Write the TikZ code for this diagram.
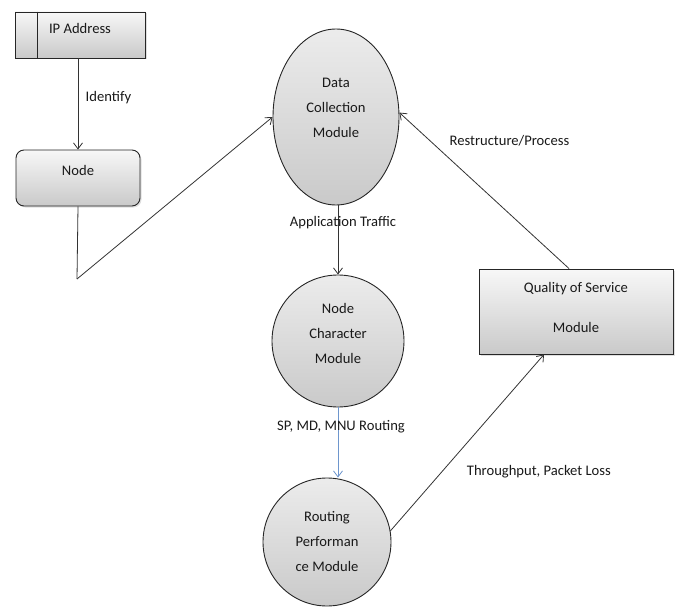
\documentclass[tikz,border=0pt]{standalone}
\usepackage{fontspec}
\setmainfont{Carlito}
\usetikzlibrary{arrows.meta,shapes.geometric,shadows}
\definecolor{arrowblue}{RGB}{110,150,205}
\definecolor{txt}{RGB}{25,25,25}
\begin{document}
\begin{tikzpicture}[x=1pt,y=-1pt,
  every node/.style={font=\fontsize{14.6}{25}\selectfont, text=txt},
  shade/.style={draw=black!85, line width=0.9pt, top color=gray!6, bottom color=gray!42},
  shadowed/.style={drop shadow={shadow xshift=1.5pt,shadow yshift=-1.5pt,opacity=0.25}},
  circ/.style={draw=black!85, line width=0.9pt, top color=gray!15, bottom color=gray!42},
  arr/.style={-{Straight Barb[length=6pt,width=9pt]}, line width=0.8pt, draw=black!80},
  plain/.style={line width=0.8pt, draw=black!80}
]
\useasboundingbox (0,0) rectangle (677,607);

% boxes
\node[shade, shadowed, minimum width=130pt, minimum height=46pt,
      label={[yshift=7pt]center:IP Address}] (ip) at (80,35) {};
\draw[black!85, line width=0.9pt] ([xshift=23pt]ip.north west) -- ([xshift=23pt]ip.south west);

\node[shade, shadowed, rounded corners=8pt, minimum width=124pt, minimum height=56pt,
      label={[yshift=8pt]center:Node}] (nd) at (78,178) {};

\node[shade, shadowed, minimum width=194pt, minimum height=85pt,
      label={[yshift=4.5pt,align=center,font=\fontsize{14.6}{40}\selectfont]center:Quality of Service\\Module}] (qos) at (576,311.5) {};

% circles / ellipse
\node[circ, ellipse, minimum width=126pt, minimum height=176pt,
      label={[yshift=9pt,align=center]center:Data\\Collection\\Module}] (dc) at (336,117) {};

\node[circ, circle, minimum size=132pt,
      label={[yshift=8pt,align=center]center:Node\\Character\\Module}] (nc) at (338,341) {};

\node[circ, circle, minimum size=128pt,
      label={[align=center]center:Routing\\Performan\\ce Module}] (rp) at (327,542) {};

\coordinate (bend) at (77,279);

% connectors
\draw[arr] (nd.north |- ip.south) -- node[pos=0.435, anchor=west, xshift=4pt] {Identify} (nd.north);
\draw[plain] (nd.south) -- (bend);
\draw[arr] (bend) -- (dc.west);
\draw[arr] (dc.south -| nc.north) -- node[pos=0.25, xshift=5pt] {Application Traffic} (nc.north);
\draw[arr, draw=arrowblue] (nc.south) -- node[pos=0.28, xshift=3pt] {SP, MD, MNU Routing} (nc.south |- rp.north);
\draw[arr] (rp.10) -- node[pos=0.337, anchor=west, xshift=21pt] {Throughput, Packet Loss} ([xshift=-32pt]qos.south);
\draw[arr] ([xshift=-7pt]qos.north) -- node[pos=0.82, anchor=west, xshift=16pt] {Restructure/Process} (dc.4);
\end{tikzpicture}
\end{document}
